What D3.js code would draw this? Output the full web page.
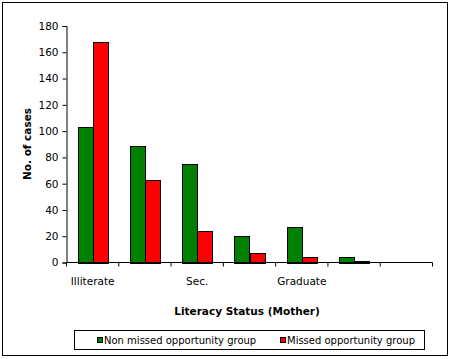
<!DOCTYPE html>
<html>
<head>
<meta charset="utf-8">
<script src="https://cdn.jsdelivr.net/npm/d3@7/dist/d3.min.js"></script>
<style>
  html, body { margin: 0; padding: 0; background: #fff; }
  svg { display: block; }
  text { font-family: "DejaVu Sans", Verdana, sans-serif; fill: #000; }
</style>
</head>
<body>
<script>
const categories = ["Illiterate", "Primary", "Sec.", "Hr. Sec.", "Graduate", "Post Graduate", "Others"];
const shownLabels = ["Illiterate", "", "Sec.", "", "Graduate", "", ""];
const seriesNames = ["Non missed opportunity group", "Missed opportunity group"];
const nonMissed = [103, 89, 75, 20, 27, 4, 0];
const missed = [168, 63, 24, 7, 4, 1, 0];
const colors = ["#008000", "#FF0000"];
const yTicks = [0, 20, 40, 60, 80, 100, 120, 140, 160, 180];

(function () {
const W = 450, H = 359;
const svg = d3.select("body").append("svg").attr("width", W).attr("height", H);

// outer frame
svg.append("rect").attr("x", 2.5).attr("y", 2.5).attr("width", 445).attr("height", 353)
  .attr("fill", "#fff").attr("stroke", "#000").attr("stroke-width", 1);

const pLeft = 66.5, pRight = 432.5, pTop = 26, pBottom = 262.5;
const x0 = d3.scaleBand().domain(categories).range([pLeft, pRight]).padding(0);
const x1 = d3.scaleBand().domain(seriesNames).range([0, x0.bandwidth()]).paddingInner(0).paddingOuter(0.74);
const y = d3.scaleLinear().domain([0, 180]).range([pBottom, pTop]);

const data = categories.map((c, i) => ({ cat: c, vals: [nonMissed[i], missed[i]] }));

// bars
const g = svg.append("g");
data.forEach(d => {
  d.vals.forEach((v, j) => {
    if (v <= 0) return;
    g.append("rect")
      .attr("x", Math.round(x0(d.cat) + x1(seriesNames[j])) + 0.5)
      .attr("y", Math.round(y(v)) + 0.5)
      .attr("width", Math.round(x1.bandwidth()))
      .attr("height", Math.max(0, Math.round(pBottom) - Math.round(y(v))))
      .attr("fill", colors[j])
      .attr("stroke", "#000").attr("stroke-width", 1);
  });
});

// y axis
const yAxis = d3.axisLeft(y).tickValues(yTicks).tickSize(4).tickPadding(4);
const yg = svg.append("g").attr("transform", `translate(${pLeft},0)`).call(yAxis);
yg.select(".domain").attr("stroke", "#000");
yg.selectAll(".tick line").attr("stroke", "#000");
yg.selectAll(".tick text").style("font-size", "10.5px").style("font-family", "DejaVu Sans, Verdana, sans-serif").attr("fill", "#000");

// x axis: ticks at category boundaries
const boundaries = categories.map(c => x0(c)).concat([pRight]);
const xg = svg.append("g");
xg.append("line").attr("x1", pLeft).attr("x2", pRight).attr("y1", pBottom).attr("y2", pBottom).attr("stroke", "#000");
boundaries.forEach(b => {
  xg.append("line").attr("x1", b).attr("x2", b).attr("y1", pBottom).attr("y2", pBottom + 4).attr("stroke", "#000");
});
categories.forEach((c, i) => {
  if (!shownLabels[i]) return;
  xg.append("text").attr("x", x0(c) + x0.bandwidth() / 2).attr("y", 285)
    .attr("text-anchor", "middle").style("font-size", "10.5px").text(shownLabels[i]);
});

// axis titles
svg.append("text").attr("x", 247).attr("y", 315).attr("text-anchor", "middle")
  .style("font-size", "10.5px").style("font-weight", "bold").text("Literacy Status (Mother)");
svg.append("text").attr("transform", "translate(31,144) rotate(-90)").attr("text-anchor", "middle")
  .style("font-size", "10.5px").style("font-weight", "bold").text("No. of cases");

// legend
const lg = svg.append("g");
lg.append("rect").attr("x", 74.5).attr("y", 330.5).attr("width", 350).attr("height", 19)
  .attr("fill", "#fff").attr("stroke", "#000");
const legendX = [97, 280];
seriesNames.forEach((s, j) => {
  lg.append("rect").attr("x", legendX[j] + 0.5).attr("y", 337.5).attr("width", 5).attr("height", 5)
    .attr("fill", colors[j]).attr("stroke", "#000").attr("stroke-width", 1);
  lg.append("text").attr("x", legendX[j] + 7).attr("y", 344)
    .style("font-size", "10px").text(s);
});
})();
</script>
</body>
</html>
